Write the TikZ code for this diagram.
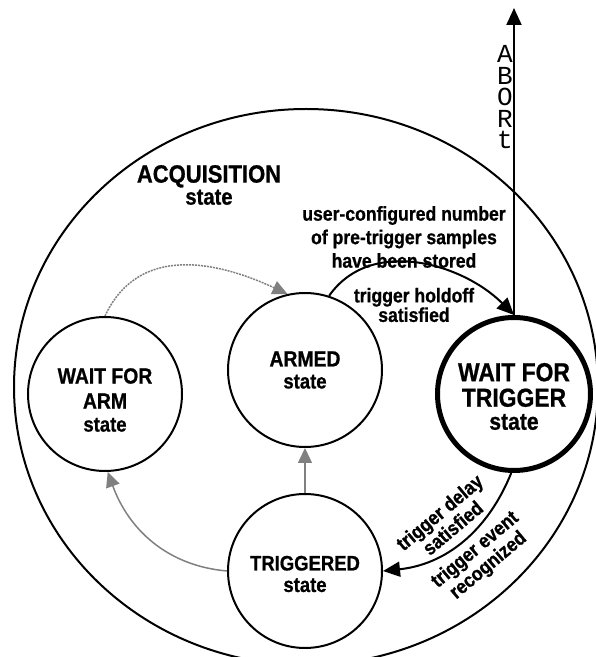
\documentclass[tikz,border=0pt]{standalone}
\usepackage{fontspec}
\setmainfont{Liberation Sans}[FakeStretch=0.88, BoldFeatures={FakeBold=0.8}]
\newfontfamily\monof{Liberation Mono}
\usetikzlibrary{arrows.meta,shapes.geometric}
\tikzset{
  stnode/.style={circle, draw, line width=2pt, minimum size=154pt, inner sep=0pt},
  lbl/.style={align=center, inner sep=0pt},
  blackarr/.style={line width=2pt, -{Triangle[length=17pt,width=15pt]}},
  grayarr/.style={draw=gray, line width=1.5pt, -{Triangle[length=15pt,width=14pt]}, gray},
}
\newcommand{\fs}[2]{\fontsize{#1}{#2}\selectfont}
\begin{document}
\begin{tikzpicture}[x=1pt,y=1pt]
\useasboundingbox (0,0) rectangle (596,657);
\node[draw, ellipse, line width=2pt, minimum width=584pt, minimum height=556pt, inner sep=0pt] (acq) at (306,270) {};

\node[stnode] (warm) at (105,263) {};
\node[stnode] (armed) at (305,287) {};
\node[stnode, line width=5pt, minimum size=153pt] (wft) at (514,263) {};
\node[stnode] (trig) at (305,86) {};

\node[lbl, font=\bfseries\fs{22}{23}] (warmtxt) at ([yshift=-6pt]warm.center) {WAIT FOR\\[2pt]ARM\\{\fs{21}{23}state}};
\node[lbl, font=\bfseries\fs{22}{22}] (armedtxt) at (armed.center) {ARMED\\{\fs{21}{22}state}};
\node[lbl, font=\bfseries\fs{26}{23}] (wfttxt) at ([yshift=-2.5pt]wft.center) {WAIT FOR\\[2.5pt]TRIGGER\\{\fs{24}{23}state}};
\node[lbl, font=\bfseries\fs{21}{21.5}] (trigtxt) at ([yshift=-3pt]trig.center) {TRIGGERED\\{\fs{21}{21.5}state}};

\coordinate (abtop) at (514,649);

\draw[blackarr] (armed.72) to[out=55,in=135] (wft.north);
\draw[blackarr] (wft.north) -- (abtop);
\draw[blackarr] (wft.-92) to[out=-112,in=6] (trig.east);
\draw[grayarr] (trig.north) -- (armed.south);
\draw[grayarr] (trig.west) to[out=175,in=-70] (warm.-88);
\draw[grayarr, dash pattern=on 2pt off 1pt] (warm.north) to[out=65,in=155,looseness=1.1] (armed.103);

\node[lbl, font=\monof\fs{26}{21.5}] (abort) at (505,559.5) {A\\B\\O\\R\\t};
\node[lbl, font=\bfseries\fs{25}{22}] (acqlbl) at (209,472) {ACQUISITION\\{\fs{23}{22}state}};
\node[lbl, font=\bfseries\fs{20}{23.5}] (ucn) at (404,420) {user-configured number\\of pre-trigger samples\\have been stored};
\node[lbl, font=\bfseries\fs{20}{19.5}] (hold) at (414,352) {trigger holdoff\\satisfied};
\node[lbl, font=\bfseries\fs{20}{20.5}, rotate=40] (delay) at (446,137) {trigger delay\\satisfied};
\node[lbl, font=\bfseries\fs{20}{20.5}, rotate=40] (event) at (482,99) {trigger event\\recognized};
\end{tikzpicture}
\end{document}
